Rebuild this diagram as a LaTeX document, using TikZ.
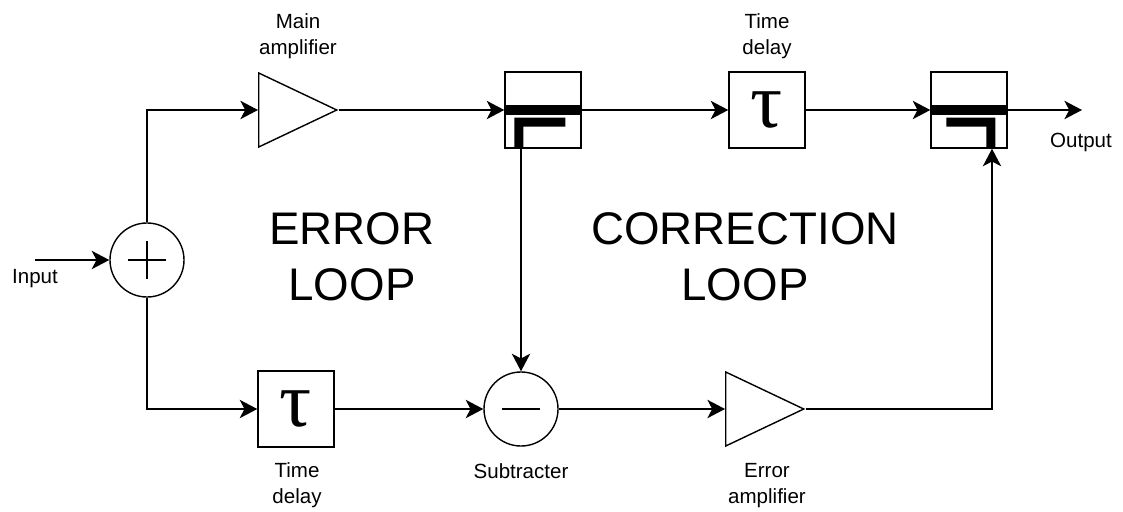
\documentclass[tikz,border=0pt]{standalone}
\usepackage{fontspec}
\setmainfont{Liberation Sans}
\newfontfamily\taufont{Liberation Serif}
\usetikzlibrary{arrows.meta,shapes.geometric}

\begin{document}
\begin{tikzpicture}[x=0.025cm, y=-0.025cm, line width=1pt,
    sumjn/.style={circle, draw, minimum size=1.85cm, inner sep=0pt},
    blk/.style={rectangle, draw, minimum size=1.9cm, inner sep=0pt},
    amp/.style={isosceles triangle, isosceles triangle stretches, draw,
        inner sep=0pt, minimum width=1.85cm, minimum height=1.95cm},
    lbl/.style={align=center, inner sep=0pt, font=\fontsize{14.6}{18.5}\selectfont},
    bigtxt/.style={align=center, inner sep=0pt, font=\fontsize{32.5}{39.8}\selectfont},
    sig/.style={-{Stealth[length=0.44cm,width=0.46cm,inset=0.12cm]}}
]
\useasboundingbox (0,0) rectangle (1123,512);

\node[sumjn] (sum) at (147,260) {};
\node[amp, anchor=west] (mainamp) at (258,110) {};
\node[blk] (coupA) at (543,110) {};
\node[blk] (delayA) at (767,110) {\scalebox{3.9}[3.8]{\taufont\fontsize{14.6}{14.6}\selectfont τ}};
\node[blk] (coupB) at (969,110) {};
\node[blk] (delayB) at (296,409) {\scalebox{3.9}[3.8]{\taufont\fontsize{14.6}{14.6}\selectfont τ}};
\node[sumjn] (sub) at (521,409) {};
\node[amp, anchor=west] (erramp) at (725,409) {};

\coordinate (in) at (35,260);
\coordinate (out) at (1082,110);
\coordinate (tap) at ([shift={(23,0)}]coupB.south);

% plus and minus signs
\draw ([shift={(-19,0)}]sum.center) -- ([shift={(19,0)}]sum.center);
\draw ([shift={(0,-19)}]sum.center) -- ([shift={(0,19)}]sum.center);
\draw ([shift={(-19,0)}]sub.center) -- ([shift={(19,0)}]sub.center);

% couplers
\draw[line width=0.225cm] (coupA.west) -- (coupA.east);
\fill ([shift={(10,-31)}]coupA.south west) -- ++(51,0) -- ++(0,9) -- ++(-42,0)
    -- ++(0,22) -- ++(-9,0) -- cycle;
\draw[line width=0.225cm] (coupB.west) -- (coupB.east);
\fill ([shift={(16,-31)}]coupB.south west) -- ++(49,0) -- ++(0,31) -- ++(-9,0)
    -- ++(0,-22) -- ++(-40,0) -- cycle;

% signal paths
\draw[sig] (in) -- (sum.west);
\draw[sig] (sum.north) |- (mainamp.west);
\draw[sig] (mainamp.apex) -- (coupA.west);
\draw[sig] (coupA.east) -- (delayA.west);
\draw[sig] (delayA.east) -- (coupB.west);
\draw[sig] (coupB.east) -- (out);
\draw[sig] (sum.south) |- (delayB.west);
\draw[sig] (delayB.east) -- (sub.west);
\draw[sig] (sub.north |- coupA.south) -- (sub.north);
\draw[sig] (sub.east) -- (erramp.west);
\draw[sig] (erramp.apex) -| (tap);

% labels
\node[lbl, anchor=north] (mainlbl) at (298,13) {Main\\amplifier};
\node[lbl, anchor=north] (dlyAlbl) at (767,13) {Time\\delay};
\node[lbl, anchor=north] (dlyBlbl) at (297,462) {Time\\delay};
\node[lbl, anchor=north] (sublbl) at (521,463) {Subtracter};
\node[lbl, anchor=north] (errlbl) at (767,463) {Error\\amplifier};
\node[lbl, anchor=north] (inlbl) at (35,269) {Input};
\node[lbl, anchor=north] (outlbl) at (1081,132) {Output};
\node[bigtxt, anchor=north] (errloop) at (352,212) {ERROR\\LOOP};
\node[bigtxt, anchor=north] (corrloop) at (745,212) {CORRECTION\\LOOP};
\end{tikzpicture}
\end{document}
